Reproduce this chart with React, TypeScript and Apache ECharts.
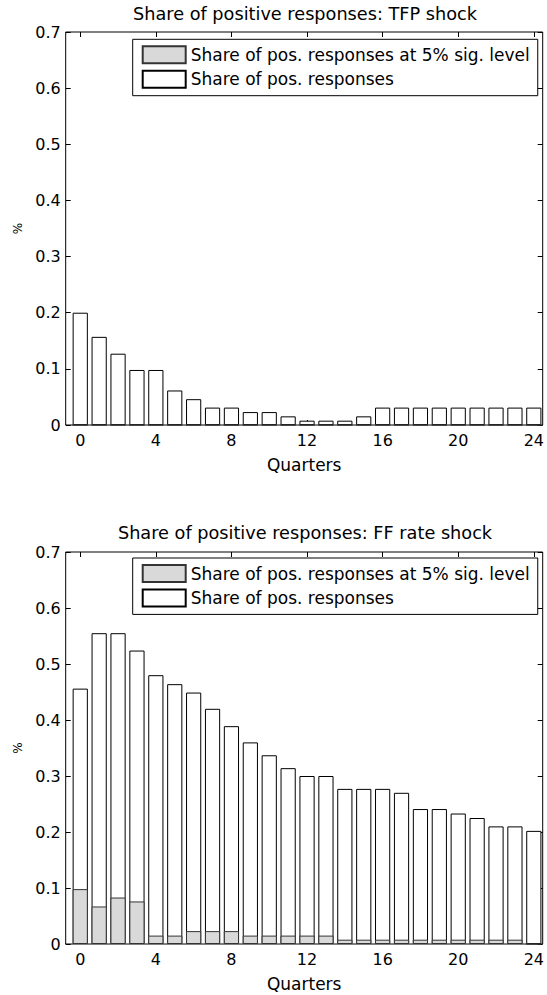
import React, { useEffect, useRef } from "react";
import * as echarts from "echarts";

const quarters = [0, 1, 2, 3, 4, 5, 6, 7, 8, 9, 10, 11, 12, 13, 14, 15, 16, 17, 18, 19, 20, 21, 22, 23, 24];
const xTicks = [0, 4, 8, 12, 16, 20, 24];

const tfpPos = [0.2, 0.157, 0.127, 0.098, 0.098, 0.0615, 0.046, 0.031, 0.031, 0.023, 0.023, 0.0154, 0.0077, 0.0077, 0.0077, 0.0154, 0.031, 0.031, 0.031, 0.031, 0.031, 0.031, 0.031, 0.031, 0.031];
const tfpSig = [0, 0, 0, 0, 0, 0, 0, 0, 0, 0, 0, 0, 0, 0, 0, 0, 0, 0, 0, 0, 0, 0, 0, 0, 0];
const ffPos = [0.456, 0.555, 0.555, 0.524, 0.48, 0.464, 0.449, 0.42, 0.389, 0.36, 0.337, 0.314, 0.3, 0.3, 0.277, 0.277, 0.277, 0.27, 0.241, 0.241, 0.233, 0.225, 0.21, 0.21, 0.202];
const ffSig = [0.098, 0.067, 0.083, 0.076, 0.015, 0.015, 0.023, 0.023, 0.023, 0.015, 0.015, 0.015, 0.015, 0.015, 0.0077, 0.0077, 0.0077, 0.0077, 0.0077, 0.0077, 0.0077, 0.0077, 0.0077, 0.0077, 0];

const titles = ["Share of positive responses: TFP shock", "Share of positive responses: FF rate shock"];
const nameSig = "Share of pos. responses at 5% sig. level";
const namePos = "Share of pos. responses";
const xName = "Quarters";
const yName = "%";

const FONT = "DejaVu Sans";

export default function App() {
  const ref = useRef<HTMLDivElement>(null);
  useEffect(() => {
    document.body.style.margin = "0";
    const chart = echarts.init(ref.current!, null, { renderer: "svg" });
    const grids = [
      { left: 65.7, width: 478.3, top: 32, height: 393 },
      { left: 65.7, width: 478.3, top: 552, height: 392 },
    ];
    const xMin = -0.77;
    const xMax = 24.47;
    const tickStyle = { color: "#000", width: 1 };
    const xAxes: any[] = [];
    const yAxes: any[] = [];
    grids.forEach((_, gi) => {
      xAxes.push({
        type: "value", gridIndex: gi, position: "bottom", min: xMin, max: xMax,
        axisLine: { show: false, onZero: false }, splitLine: { show: false },
        axisTick: { show: true, inside: true, length: 5, customValues: xTicks, lineStyle: tickStyle },
        axisLabel: { show: true, customValues: xTicks, margin: 7, color: "#000", fontSize: 16, fontFamily: FONT },
        name: xName, nameLocation: "middle", nameGap: 31,
        nameTextStyle: { color: "#000", fontSize: 17, fontFamily: FONT },
      });
      xAxes.push({
        type: "value", gridIndex: gi, position: "top", min: xMin, max: xMax,
        axisLine: { show: false, onZero: false }, splitLine: { show: false },
        axisTick: { show: true, inside: true, length: 5, customValues: xTicks, lineStyle: tickStyle },
        axisLabel: { show: false, customValues: xTicks },
      });
      yAxes.push({
        type: "value", gridIndex: gi, position: "left", min: 0, max: 0.7, interval: 0.1,
        axisLine: { show: false, onZero: false }, splitLine: { show: false },
        axisTick: { show: true, inside: true, length: 5, lineStyle: tickStyle },
        axisLabel: { margin: 5, color: "#000", fontSize: 16, fontFamily: FONT },
        name: yName, nameLocation: "middle", nameGap: 40, nameRotate: 90,
        nameTextStyle: { color: "#000", fontSize: 12, fontFamily: FONT },
      });
      yAxes.push({
        type: "value", gridIndex: gi, position: "right", min: 0, max: 0.7, interval: 0.1,
        axisLine: { show: false, onZero: false }, splitLine: { show: false },
        axisTick: { show: true, inside: true, length: 5, lineStyle: tickStyle },
        axisLabel: { show: false },
      });
    });

    const datasets = [
      { pos: tfpPos, sig: tfpSig },
      { pos: ffPos, sig: ffSig },
    ];
    const series: any[] = [];
    datasets.forEach((d, gi) => {
      series.push({
        type: "bar", name: namePos, xAxisIndex: gi * 2, yAxisIndex: gi * 2,
        data: quarters.map((q, i) => [q, d.pos[i]]),
        barWidth: 15.2, barGap: "-100%",
        itemStyle: { color: "#ffffff", borderColor: "#000", borderWidth: 1 },
      });
      series.push({
        type: "bar", name: nameSig, xAxisIndex: gi * 2, yAxisIndex: gi * 2,
        data: quarters.map((q, i) => [q, d.sig[i]]),
        barWidth: 15.2, barGap: "-100%",
        itemStyle: { color: "#d9d9d9", borderColor: "#333", borderWidth: 1 },
      });
    });

    const legendTops = [39.3, 558];
    const legends = legendTops.map((t) => ({
      left: 132.7, top: t, orient: "vertical",
      data: [nameSig, namePos],
      selectedMode: false,
      icon: "rect", itemWidth: 43, itemHeight: 17, itemGap: 5.4,
      padding: [6, 8, 7, 9],
      backgroundColor: "#fff", borderColor: "#000", borderWidth: 1,
      textStyle: { color: "#000", fontSize: 17, fontFamily: FONT, lineHeight: 17 },
    }));

    const graphic = titles.map((t, i) => ({
      type: "text", x: 305, y: i === 0 ? 14 : 533,
      style: { text: t, fill: "#000", font: `17.7px "${FONT}"`, align: "center", verticalAlign: "middle" },
    }));

    chart.setOption({
      animation: false,
      backgroundColor: "#fff",
      grid: grids.map((g) => ({ ...g, show: true, borderColor: "#000", borderWidth: 1, backgroundColor: "transparent" })),
      xAxis: xAxes,
      yAxis: yAxes,
      legend: legends,
      series,
      graphic,
    });
    return () => chart.dispose();
  }, []);
  return <div ref={ref} style={{ width: 547, height: 995 }} />;
}
